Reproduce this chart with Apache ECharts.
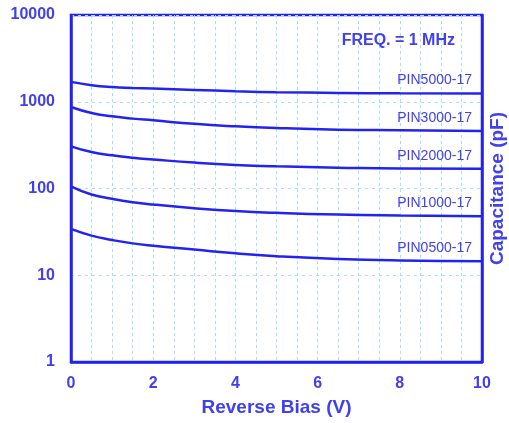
<!DOCTYPE html>
<html>
<head>
<meta charset="utf-8">
<script src="https://cdn.jsdelivr.net/npm/echarts@6/dist/echarts.min.js"></script>
<style>
  html, body { margin: 0; padding: 0; background: #fff; }
  #chart { width: 509px; height: 423px; }
</style>
</head>
<body>
<div id="chart"></div>
<script>
  // reverse bias (V)
  const bias = [0, 0.5, 1, 1.5, 2, 3, 4, 5, 6.5, 8, 10];
  // capacitance (pF) per part
  const pin5000 = [1694, 1552, 1479, 1445, 1421, 1370, 1323, 1290, 1264, 1250, 1244];
  const pin3000 = [871, 743, 680, 639, 611, 556, 521, 498, 477, 469, 460];
  const pin2000 = [306, 263, 241, 226, 216, 199, 187, 180, 174, 170, 169];
  const pin1000 = [106, 85.3, 76.0, 69.5, 65.3, 59.3, 55.0, 52.4, 50.0, 48.8, 47.8];
  const pin0500 = [34.2, 28.6, 25.5, 23.3, 21.9, 19.8, 17.9, 16.6, 15.4, 14.8, 14.5];
  const names = ['PIN5000-17', 'PIN3000-17', 'PIN2000-17', 'PIN1000-17', 'PIN0500-17'];
  const xTicks = [0, 2, 4, 6, 8, 10];
  const yTicks = [1, 10, 100, 1000, 10000];

  const blue = '#2323f0';
  const textBlue = '#4040ee';
  const gridColor = '#a6def7';
  const font = 'Liberation Sans, Arial, sans-serif';

  function makeSeries(name, values) {
    return {
      name: name,
      type: 'line',
      smooth: true,
      symbol: 'none',
      lineStyle: { color: blue, width: 2.5 },
      endLabel: {
        show: true,
        formatter: name,
        align: 'right',
        verticalAlign: 'bottom',
        offset: [-18, -6],
        color: textBlue,
        fontSize: 14,
        fontFamily: font
      },
      data: values.map((v, i) => [bias[i], v])
    };
  }

  const chart = echarts.init(document.getElementById('chart'));
  chart.setOption({
    animation: false,
    title: {
      text: 'FREQ. = 1 MHz',
      right: 49,
      top: 28,
      textStyle: { color: textBlue, fontSize: 16, fontWeight: 'bold', fontFamily: font }
    },
    grid: {
      left: 71, right: 27, top: 15, bottom: 61,
      outerBoundsMode: 'none',
      show: true, borderColor: blue, borderWidth: 2.5
    },
    xAxis: {
      type: 'value',
      min: xTicks[0],
      max: xTicks[xTicks.length - 1],
      interval: 2,
      name: 'Reverse Bias (V)',
      nameLocation: 'middle',
      nameGap: 36,
      nameTextStyle: { color: textBlue, fontSize: 19, fontWeight: 'bold', fontFamily: font },
      axisLine: { show: true, lineStyle: { color: blue, width: 2.5 } },
      axisTick: { show: false },
      axisLabel: { color: textBlue, fontSize: 16, fontWeight: 'bold', fontFamily: font, margin: 14 },
      splitLine: { show: true, lineStyle: { color: gridColor, type: [3, 3], width: 1 } },
      minorTick: { show: false, splitNumber: 4 },
      minorSplitLine: { show: true, lineStyle: { color: gridColor, type: [3, 3], width: 1 } }
    },
    yAxis: [
      {
        type: 'log',
        logBase: 10,
        min: yTicks[0],
        max: yTicks[yTicks.length - 1],
        axisLine: { show: true, lineStyle: { color: blue, width: 2.5 } },
        axisTick: { show: false },
        axisLabel: {
          color: textBlue, fontSize: 16, fontWeight: 'bold', fontFamily: font, margin: 16,
          formatter: v => String(v)
        },
        splitLine: { show: true, lineStyle: { color: gridColor, type: [3, 4], width: 1 } }
      },
      {
        type: 'log',
        logBase: 10,
        position: 'right',
        min: yTicks[0],
        max: yTicks[yTicks.length - 1],
        name: 'Capacitance (pF)',
        nameLocation: 'middle',
        nameRotate: 90,
        nameGap: 6,
        nameTextStyle: { color: textBlue, fontSize: 19, fontWeight: 'bold', fontFamily: font },
        axisLine: { show: true, lineStyle: { color: blue, width: 2.5 } },
        axisTick: { show: false },
        axisLabel: { show: false },
        splitLine: { show: false }
      }
    ],
    series: [
      makeSeries(names[0], pin5000),
      makeSeries(names[1], pin3000),
      makeSeries(names[2], pin2000),
      makeSeries(names[3], pin1000),
      makeSeries(names[4], pin0500)
    ]
  });
</script>
</body>
</html>
